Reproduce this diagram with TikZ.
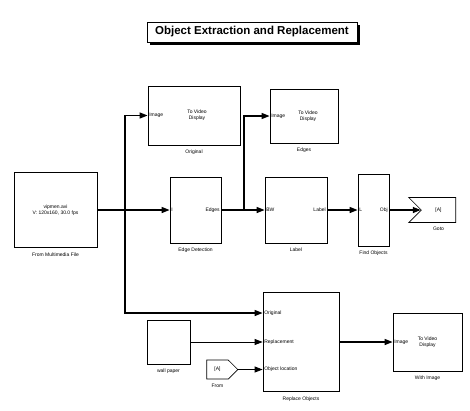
\documentclass[tikz,border=0pt]{standalone}
\usepackage{fontspec}
\setmainfont{Liberation Sans}
\usetikzlibrary{arrows.meta,shapes.symbols}
\begin{document}
\begin{tikzpicture}[x=1pt,y=-1pt,
        block/.style={draw,fill=white,line width=0.8pt,inner sep=0pt,
          font=\fontsize{5}{6}\selectfont,align=center},
        caption/.style={font=\fontsize{5}{6}\selectfont,label distance=1pt},
        port/.style={font=\fontsize{5}{6}\selectfont,inner sep=1.5pt},
        tag/.style={draw,fill=white,line width=0.7pt,signal,inner sep=0pt,
          font=\fontsize{5}{6}\selectfont},
        sig/.style={-{Triangle[length=8pt,width=6pt]},line width=1.4pt},
        thin sig/.style={-{Triangle[length=8pt,width=6pt]},line width=0.8pt}]

    \useasboundingbox (0,0) rectangle (470,410);

    % title
    \fill[black] (150,25) rectangle (360,45);
    \node[draw,fill=white,line width=0.6pt,minimum width=210pt,minimum height=20pt,
      inner sep=0pt,font=\bfseries\fontsize{11.5}{13}\selectfont] (title) at (252,32)
      {Object Extraction and Replacement};

    % blocks
    \node[block,minimum width=83pt,minimum height=75pt,
      label={[caption]below:From Multimedia File}] (file) at (55.5,210)
      {vipmen.avi\\V: 120x160, 30.0 fps};
    \node[block,minimum width=92pt,minimum height=59pt,
      label={[caption]below:Original}] (orig) at (194,115.5)
      {\hspace{6pt}To Video\\\hspace{6pt}Display};
    \node[block,minimum width=68pt,minimum height=54pt,
      label={[caption]below:Edges}] (edges) at (304,116)
      {\hspace{8pt}To Video\\\hspace{8pt}Display};
    \node[block,minimum width=51pt,minimum height=66pt,
      label={[caption]below:Edge Detection}] (edgedet) at (195.5,210) {};
    \node[block,minimum width=62pt,minimum height=66pt,
      label={[caption]below:Label}] (lab) at (296,210) {};
    \node[block,minimum width=31pt,minimum height=72pt,
      label={[caption]below:Find Objects}] (find) at (373.5,210) {};
    \node[tag,signal from=west,signal to=nowhere,minimum width=47pt,minimum height=25pt,
      label={[caption]below:Goto}] (goto) at (438.5,210) {[A]};
    \node[block,minimum width=76pt,minimum height=99pt,
      label={[caption]below:Replace Objects}] (repl) at (301,342) {};
    \node[block,minimum width=43pt,minimum height=44pt,
      label={[caption]below:wall paper}] (wall) at (168.5,342) {};
    \node[tag,signal to=east,minimum width=31pt,minimum height=19pt,
      label={[caption]below:From}] (from) at (217.5,369.5) {[A]};
    \node[block,minimum width=69pt,minimum height=58pt,
      label={[caption]below:With Image}] (with) at (427.5,342) {To Video\\Display};

    % port names
    \node[port,anchor=west] (origIn) at (orig.west) {Image};
    \node[port,anchor=west] (edgesIn) at (edges.west) {Image};
    \node[port,anchor=west] (edgeIn) at (edgedet.west) {I};
    \node[port,anchor=east] (edgeOut) at (edgedet.east) {Edges};
    \node[port,anchor=west] (labIn) at (lab.west) {BW};
    \node[port,anchor=east] (labOut) at (lab.east) {Label};
    \node[port,anchor=west] (findIn) at (find.west) {L};
    \node[port,anchor=east] (findOut) at (find.east) {Obj};
    \node[port,anchor=west] (withIn) at (with.west) {Image};
    \node[port,anchor=west] (replA) at ([yshift=29pt]repl.west) {Original};
    \node[port,anchor=west] (replB) at (repl.west) {Replacement};
    \node[port,anchor=west] (replC) at ([yshift=-27.5pt]repl.west) {Object location};

    % branch points
    \coordinate (b1) at (125,210);
    \coordinate (b2) at (244,210);

    % connections
    \draw[sig] (file.east) -- (edgedet.west);
    \draw[sig] (edgedet.east) -- (lab.west);
    \draw[sig] (lab.east) -- (find.west);
    \draw[sig] (find.east) -- (goto.west);
    \draw[sig] (repl.east) -- (with.west);
    \draw[sig] (b1) |- (orig.west);
    \draw[sig] (b1) |- (replA.west);
    \draw[sig] (b2) |- (edges.west);
    \draw[thin sig] (wall.east) -- (replB.west);
    \draw[thin sig] (from.east) -- (replC.west);
\end{tikzpicture}
\end{document}
